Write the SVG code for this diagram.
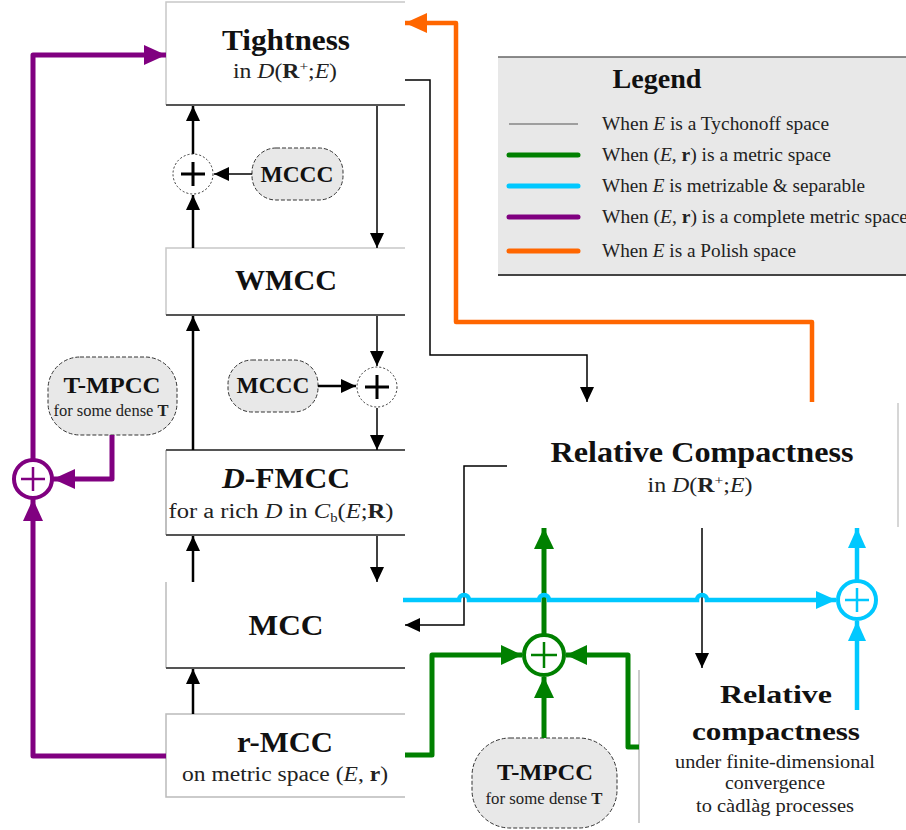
<svg xmlns="http://www.w3.org/2000/svg" width="906" height="830" viewBox="0 0 906 830">
<style>
.ttl{font-family:"Liberation Serif",serif;font-weight:bold;font-size:30px;fill:#111}
.sub{font-family:"Liberation Serif",serif;font-size:20px;fill:#222}
.pt{font-family:"Liberation Serif",serif;font-weight:bold;font-size:24px;fill:#111}
.ps{font-family:"Liberation Serif",serif;font-size:16px;fill:#222}
.lg{font-family:"Liberation Serif",serif;font-size:19px;fill:#222}
.it{font-style:italic}
.b{font-weight:bold}
.bt{stroke:#c8c8c8;stroke-width:1.5;fill:none}
.bd{stroke:#555;stroke-width:2;fill:none}
.pill{fill:#e8e8e8;stroke:#333;stroke-width:1;stroke-dasharray:4 2}
.k2{stroke:#000;stroke-width:2.5;fill:none}
.k1{stroke:#000;stroke-width:1.5;fill:none}
.pu{stroke:#800080;stroke-width:5;fill:none;stroke-linejoin:round}
.gr{stroke:#008000;stroke-width:5;fill:none;stroke-linejoin:round}
.cy{stroke:#00c8ff;stroke-width:4.5;fill:none}
.or{stroke:#ff6600;stroke-width:4.5;fill:none;stroke-linejoin:round}
</style>
<defs>
<marker id="ak" markerUnits="userSpaceOnUse" markerWidth="15" markerHeight="14" viewBox="0 0 15 14" refX="15" refY="7" orient="auto"><path d="M0,0 L15,7 L0,14 z" fill="#000"/></marker>
<marker id="ap" markerUnits="userSpaceOnUse" markerWidth="22" markerHeight="20" viewBox="0 0 22 20" refX="22" refY="10" orient="auto"><path d="M0,0 L22,10 L0,20 z" fill="#800080"/></marker>
<marker id="ag" markerUnits="userSpaceOnUse" markerWidth="21" markerHeight="20" viewBox="0 0 21 20" refX="21" refY="10" orient="auto"><path d="M0,0 L21,10 L0,20 z" fill="#008000"/></marker>
<marker id="ac" markerUnits="userSpaceOnUse" markerWidth="20" markerHeight="18" viewBox="0 0 20 18" refX="20" refY="9" orient="auto"><path d="M0,0 L20,9 L0,18 z" fill="#00c8ff"/></marker>
<marker id="ao" markerUnits="userSpaceOnUse" markerWidth="22" markerHeight="20" viewBox="0 0 22 20" refX="22" refY="10" orient="auto"><path d="M0,0 L22,10 L0,20 z" fill="#ff6600"/></marker>
</defs>
<rect width="906" height="830" fill="#fff"/>

<g id="legend">
<rect x="498" y="57" width="410" height="218" fill="#e8e8e8"/>
<line x1="498" y1="57" x2="906" y2="57" stroke="#666" stroke-width="1.5"/>
<line x1="498" y1="275" x2="906" y2="275" stroke="#444" stroke-width="2"/>
<text x="657" y="88" class="ttl" font-size="27" text-anchor="middle" textLength="89" lengthAdjust="spacingAndGlyphs" style="font-size:27px">Legend</text>
<line x1="509" y1="124" x2="578" y2="124" stroke="#555" stroke-width="1"/>
<line x1="509" y1="155" x2="578" y2="155" stroke="#008000" stroke-width="5" stroke-linecap="round"/>
<line x1="509" y1="186" x2="578" y2="186" stroke="#00c8ff" stroke-width="5" stroke-linecap="round"/>
<line x1="509" y1="217" x2="578" y2="217" stroke="#800080" stroke-width="5" stroke-linecap="round"/>
<line x1="509" y1="251" x2="578" y2="251" stroke="#ff6600" stroke-width="5" stroke-linecap="round"/>
<text x="602" y="130" class="lg" textLength="227" lengthAdjust="spacingAndGlyphs">When <tspan class="it">E</tspan> is a Tychonoff space</text>
<text x="602" y="161" class="lg" textLength="229" lengthAdjust="spacingAndGlyphs">When (<tspan class="it">E</tspan>, <tspan class="b">r</tspan>) is a metric space</text>
<text x="602" y="192" class="lg" textLength="263" lengthAdjust="spacingAndGlyphs">When <tspan class="it">E</tspan> is metrizable &amp; separable</text>
<text x="602" y="223" class="lg" textLength="306" lengthAdjust="spacingAndGlyphs">When (<tspan class="it">E</tspan>, <tspan class="b">r</tspan>) is a complete metric space</text>
<text x="602" y="257" class="lg" textLength="194" lengthAdjust="spacingAndGlyphs">When <tspan class="it">E</tspan> is a Polish space</text>
</g>

<g id="tightness">
<rect x="166" y="2" width="239" height="103" fill="#fff"/>
<path class="bt" d="M405,2 H166 V105"/>
<path class="bd" d="M166,105 H405"/>
<text x="286" y="50" class="ttl" text-anchor="middle" textLength="128" lengthAdjust="spacingAndGlyphs">Tightness</text>
<text x="285" y="78" class="sub" text-anchor="middle" textLength="104" lengthAdjust="spacingAndGlyphs">in <tspan class="it">D</tspan>(<tspan class="b">R</tspan><tspan font-size="13" dy="-7">+</tspan><tspan dy="7">;</tspan><tspan class="it">E</tspan>)</text>
</g>

<g id="wmcc">
<path class="bt" d="M405,248 H166 V315"/>
<path class="bd" d="M166,315 H405" stroke="#777"/>
<text x="286" y="290" class="ttl" text-anchor="middle" textLength="102" lengthAdjust="spacingAndGlyphs">WMCC</text>
</g>

<g id="dfmcc">
<path d="M166,450 V535" stroke="#aaa" stroke-width="1.5" fill="none"/>
<path class="bd" d="M166,450 H405 M166,535 H405"/>
<text x="286" y="488" class="ttl" text-anchor="middle" textLength="128" lengthAdjust="spacingAndGlyphs"><tspan class="it">D</tspan>-FMCC</text>
<text x="281" y="518" class="sub" text-anchor="middle" textLength="225" lengthAdjust="spacingAndGlyphs">for a rich <tspan class="it">D</tspan> in <tspan class="it">C</tspan><tspan font-size="12" dy="4">b</tspan><tspan dy="-4">(</tspan><tspan class="it">E</tspan>;<tspan class="b">R</tspan>)</text>
</g>

<g id="mcc">
<path d="M166,582 V668" stroke="#bbb" stroke-width="1.5" fill="none"/>
<path class="bd" d="M166,668 H405"/>
<text x="286" y="635" class="ttl" text-anchor="middle" textLength="75" lengthAdjust="spacingAndGlyphs">MCC</text>
</g>

<g id="rmcc">
<path d="M405,714 H166 V797 H405" stroke="#bbb" stroke-width="1.5" fill="none"/>
<text x="285" y="752" class="ttl" text-anchor="middle" textLength="96" lengthAdjust="spacingAndGlyphs">r-MCC</text>
<text x="285" y="781" class="sub" text-anchor="middle" textLength="206" lengthAdjust="spacingAndGlyphs">on metric space (<tspan class="it">E</tspan>, <tspan class="b">r</tspan>)</text>
</g>

<g id="mccc1">
<rect class="pill" x="252" y="148" width="91" height="52" rx="24"/>
<text x="297" y="182" class="pt" text-anchor="middle" textLength="73" lengthAdjust="spacingAndGlyphs">MCCC</text>
</g>
<g id="mccc2">
<rect class="pill" x="228" y="360" width="90" height="52" rx="24"/>
<text x="273" y="393" class="pt" text-anchor="middle" textLength="73" lengthAdjust="spacingAndGlyphs">MCCC</text>
</g>
<g id="tmpcc1">
<rect class="pill" x="48" y="357" width="129" height="78" rx="32"/>
<text x="112" y="393" class="pt" text-anchor="middle" textLength="97" lengthAdjust="spacingAndGlyphs">T-MPCC</text>
<text x="111" y="416" class="ps" text-anchor="middle" textLength="115" lengthAdjust="spacingAndGlyphs">for some dense <tspan class="b">T</tspan></text>
</g>
<g id="tmpcc2">
<rect class="pill" x="472" y="738" width="145" height="90" rx="38"/>
<text x="545" y="780" class="pt" text-anchor="middle" textLength="96" lengthAdjust="spacingAndGlyphs">T-MPCC</text>
<text x="544" y="804" class="ps" text-anchor="middle" textLength="117" lengthAdjust="spacingAndGlyphs">for some dense <tspan class="b">T</tspan></text>
</g>

<g id="relcomp">
<line x1="898" y1="403" x2="898" y2="527" stroke="#c8c8c8" stroke-width="1.5"/>
<text x="702" y="462" class="ttl" text-anchor="middle" textLength="303" lengthAdjust="spacingAndGlyphs">Relative Compactness</text>
<text x="700" y="492" class="sub" text-anchor="middle" textLength="105" lengthAdjust="spacingAndGlyphs">in <tspan class="it">D</tspan>(<tspan class="b">R</tspan><tspan font-size="13" dy="-7">+</tspan><tspan dy="7">;</tspan><tspan class="it">E</tspan>)</text>
</g>

<g id="relcompfd">
<line x1="639" y1="670" x2="639" y2="823" stroke="#999" stroke-width="1"/>
<text x="776" y="703" class="ttl" text-anchor="middle" textLength="112" lengthAdjust="spacingAndGlyphs" style="font-size:25px">Relative</text>
<text x="776" y="740" class="ttl" text-anchor="middle" textLength="168" lengthAdjust="spacingAndGlyphs" style="font-size:25px">compactness</text>
<text x="775" y="768" class="sub" text-anchor="middle" textLength="200" lengthAdjust="spacingAndGlyphs" style="font-size:18px">under finite-dimensional</text>
<text x="775" y="789" class="sub" text-anchor="middle" textLength="100" lengthAdjust="spacingAndGlyphs" style="font-size:18px">convergence</text>
<text x="775" y="812" class="sub" text-anchor="middle" textLength="158" lengthAdjust="spacingAndGlyphs" style="font-size:18px">to càdlàg processes</text>
</g>

<g id="connectors">
<!-- black thick -->
<path class="k2" d="M193,248 V195" marker-end="url(#ak)"/>
<path class="k2" d="M193,154 V106" marker-end="url(#ak)"/>
<path class="k1" d="M252,174 H214" marker-end="url(#ak)"/>
<path class="k2" d="M193,450 V316" marker-end="url(#ak)"/>
<path class="k2" d="M193,582 V536" marker-end="url(#ak)"/>
<path class="k2" d="M193,714 V669" marker-end="url(#ak)"/>
<!-- black thin -->
<path class="k1" d="M377,106 V248" marker-end="url(#ak)"/>
<path class="k1" d="M377,316 V366" marker-end="url(#ak)"/>
<path class="k1" d="M377,408 V450" marker-end="url(#ak)"/>
<path class="k2" d="M318,386 H356" marker-end="url(#ak)"/>
<path class="k1" d="M377,536 V582" marker-end="url(#ak)"/>
<path class="k1" d="M405,80 H430 V355 H587 V402" marker-end="url(#ak)"/>
<path class="k1" d="M507,466 H464 V625 H405" marker-end="url(#ak)"/>
<path class="k1" d="M702,528 V668" marker-end="url(#ak)"/>
<!-- purple -->
<path class="pu" d="M112,435 V479 H53" marker-end="url(#ap)"/>
<path class="pu" d="M33,459 V55 H166" marker-end="url(#ap)"/>
<path class="pu" d="M166,756 H33 V499" marker-end="url(#ap)"/>
<!-- orange -->
<path class="or" d="M812,402 V322 H456 V23 H405" marker-end="url(#ao)"/>
<!-- green -->
<path class="gr" d="M405,755 H432 V655 H522" marker-end="url(#ag)"/>
<path class="gr" d="M544,738 V677" marker-end="url(#ag)"/>
<path class="gr" d="M639,747 H628 V655 H566" marker-end="url(#ag)"/>
<path class="gr" d="M544,634 V528" marker-end="url(#ag)"/>
<!-- cyan -->
<path class="cy" d="M403,600 H459 A5,5 0 0 1 469,600 H539 A5,5 0 0 1 549,600 H697 A5,5 0 0 1 707,600 H836" marker-end="url(#ac)"/>
<path class="cy" d="M857,580 V528" marker-end="url(#ac)"/>
<path class="cy" d="M857,710 V621" marker-end="url(#ac)"/>
</g>

<g id="sum1">
<circle cx="193" cy="174" r="20" fill="#fff" stroke="#333" stroke-width="1" stroke-dasharray="2 2"/>
<path d="M181,174 H205 M193,162 V186" stroke="#000" stroke-width="3"/>
</g>
<g id="sum2">
<circle cx="377" cy="387" r="20" fill="#fff" stroke="#333" stroke-width="1" stroke-dasharray="2 2"/>
<path d="M365,387 H389 M377,375 V399" stroke="#000" stroke-width="3"/>
</g>
<g id="sum-purple">
<circle cx="33" cy="479" r="19" fill="#fff" stroke="#800080" stroke-width="4"/>
<path d="M21,479 H45 M33,467 V491" stroke="#800080" stroke-width="2.5"/>
</g>
<g id="sum-green">
<circle cx="544" cy="655" r="20" fill="#fff" stroke="#008000" stroke-width="4"/>
<path d="M531,655 H557 M544,642 V668" stroke="#008000" stroke-width="2.5"/>
</g>
<g id="sum-cyan">
<circle cx="857" cy="600" r="19" fill="#fff" stroke="#00c8ff" stroke-width="4"/>
<path d="M845,600 H869 M857,588 V612" stroke="#00c8ff" stroke-width="2.5"/>
</g>
</svg>
